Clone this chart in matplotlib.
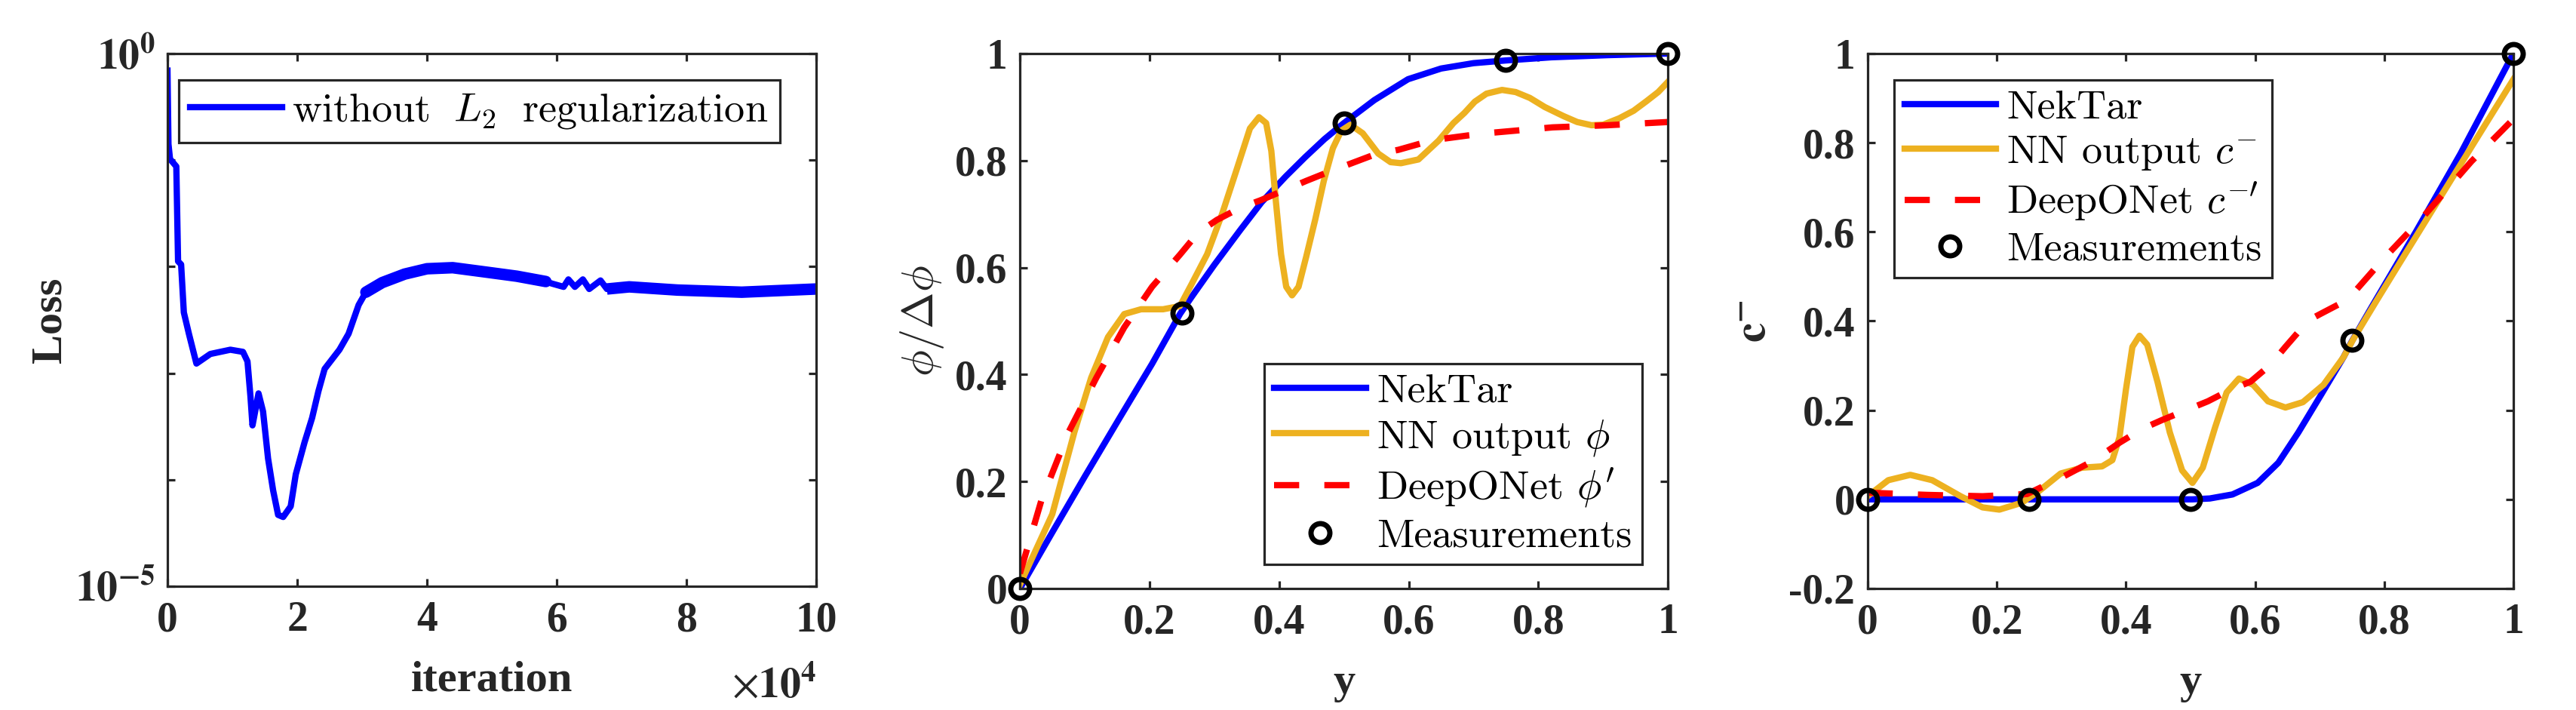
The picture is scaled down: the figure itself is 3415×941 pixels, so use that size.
import numpy as np
import matplotlib
matplotlib.use("Agg")
import matplotlib.pyplot as plt
from matplotlib.font_manager import FontProperties

# ---------------- data ----------------
# Panel 1: training loss
loss_iter = [0, 150, 390, 1360, 1630, 2100, 2520, 3300, 4460, 6600, 9690, 11630,
             12330, 12790, 13100, 13570, 14030, 14730, 15500, 16280, 17050, 17830,
             18990, 19770, 21120, 22290, 23260, 24220, 26500, 27910, 29460, 30580,
             33090, 36560, 40000, 43950, 48930, 53840, 58320, 59300, 61050, 61790,
             62790, 64020, 65000, 66740, 67730, 71160, 78600, 88500, 100000]
loss_log10 = [-0.16, -0.85, -0.99, -1.06, -1.95, -1.98, -2.43, -2.63, -2.91, -2.82,
              -2.78, -2.80, -2.89, -3.22, -3.49, -3.34, -3.19, -3.36, -3.80, -4.10,
              -4.33, -4.35, -4.25, -3.95, -3.65, -3.42, -3.17, -2.96, -2.78, -2.63,
              -2.36, -2.24, -2.15, -2.07, -2.02, -2.01, -2.05, -2.09, -2.14, -2.16,
              -2.19, -2.12, -2.19, -2.12, -2.21, -2.13, -2.21, -2.19, -2.22, -2.24,
              -2.21]
loss_label = r"without $\;L_2\;$ regularization"
iter_ticks = [0, 20000, 40000, 60000, 80000, 100000]
iter_ticklabels = ["0", "2", "4", "6", "8", "10"]

# Panel 2: phi / delta phi
phi_nek_y = [0, 0.05, 0.101, 0.153, 0.204, 0.247, 0.265, 0.30, 0.34, 0.373, 0.41,
             0.44, 0.47, 0.5, 0.547, 0.599, 0.65, 0.70, 0.749, 0.82, 0.907, 1.0]
phi_nek = [0, 0.105, 0.211, 0.317, 0.42, 0.513, 0.545, 0.605, 0.67, 0.722, 0.77,
           0.806, 0.84, 0.87, 0.913, 0.952, 0.972, 0.982, 0.987, 0.993, 0.997, 1.0]
phi_nn_y = [0, 0.05, 0.084, 0.11, 0.136, 0.161, 0.187, 0.221, 0.247, 0.265, 0.289,
            0.312, 0.335, 0.355, 0.369, 0.380, 0.388, 0.395, 0.403, 0.411, 0.420,
            0.430, 0.442, 0.456, 0.469, 0.483, 0.496, 0.510, 0.529, 0.553, 0.572,
            0.588, 0.615, 0.646, 0.669, 0.686, 0.702, 0.72, 0.744, 0.765, 0.787,
            0.81, 0.839, 0.86, 0.882, 0.90, 0.925, 0.947, 0.967, 0.985, 1.0]
phi_nn = [0.007, 0.139, 0.292, 0.394, 0.47, 0.513, 0.522, 0.522, 0.528, 0.569, 0.625,
          0.70, 0.785, 0.860, 0.881, 0.870, 0.818, 0.724, 0.625, 0.564, 0.548,
          0.564, 0.621, 0.691, 0.762, 0.823, 0.856, 0.867, 0.851, 0.813, 0.797,
          0.795, 0.802, 0.837, 0.870, 0.889, 0.910, 0.925, 0.932, 0.928, 0.917,
          0.900, 0.883, 0.872, 0.866, 0.867, 0.879, 0.893, 0.911, 0.928, 0.947]
phi_don_y = [0, 0.033, 0.075, 0.118, 0.161, 0.204, 0.247, 0.275, 0.304, 0.339, 0.372,
             0.409, 0.442, 0.477, 0.512, 0.547, 0.584, 0.619, 0.655, 0.692, 0.729,
             0.822, 0.907, 1.0]
phi_don = [0.028, 0.164, 0.292, 0.394, 0.488, 0.564, 0.624, 0.665, 0.689, 0.711, 0.726,
           0.745, 0.762, 0.779, 0.795, 0.811, 0.820, 0.832, 0.841, 0.847, 0.852,
           0.862, 0.866, 0.872]
phi_meas_y = [0, 0.25, 0.5, 0.75, 1.0]
phi_meas = [0, 0.515, 0.87, 0.987, 1.0]

# Panel 3: c-
c_nek_y = [0, 0.503, 0.53, 0.565, 0.604, 0.636, 0.667, 0.702, 0.737, 0.75, 0.78,
           0.849, 0.918, 1.0]
c_nek = [0, 0, 0.002, 0.011, 0.037, 0.082, 0.150, 0.234, 0.319, 0.355, 0.43,
         0.60, 0.775, 1.0]
c_nn_y = [0, 0.032, 0.066, 0.1, 0.144, 0.178, 0.204, 0.238, 0.264, 0.299, 0.332,
          0.363, 0.379, 0.39, 0.40, 0.41, 0.421, 0.433, 0.449, 0.468, 0.487, 0.503,
          0.519, 0.538, 0.556, 0.575, 0.597, 0.62, 0.647, 0.674, 0.706, 0.737,
          0.752, 0.787, 0.823, 0.91, 1.0]
c_nn = [0.007, 0.043, 0.055, 0.043, 0.007, -0.018, -0.023, -0.008, 0.017, 0.058,
        0.071, 0.074, 0.088, 0.139, 0.246, 0.342, 0.367, 0.347, 0.263, 0.150,
        0.065, 0.037, 0.071, 0.161, 0.240, 0.271, 0.257, 0.220, 0.206, 0.218,
        0.257, 0.319, 0.359, 0.443, 0.528, 0.732, 0.942]
c_don_y = [0, 0.092, 0.178, 0.247, 0.299, 0.35, 0.39, 0.425, 0.456, 0.495, 0.527,
           0.562, 0.593, 0.624, 0.647, 0.674, 0.686, 0.70, 0.737, 0.755, 0.798,
           0.858, 0.935, 1.0]
c_don = [0.015, 0.01, 0.007, 0.012, 0.048, 0.087, 0.127, 0.158, 0.178, 0.201, 0.220,
         0.246, 0.264, 0.302, 0.342, 0.387, 0.404, 0.415, 0.443, 0.467, 0.538,
         0.63, 0.758, 0.853]
c_meas_y = [0, 0.25, 0.5, 0.75, 1.0]
c_meas = [0, 0, 0, 0.357, 1.0]

y_ticks = [0, 0.2, 0.4, 0.6, 0.8, 1.0]
y_ticklabels = ["0", "0.2", "0.4", "0.6", "0.8", "1"]
c_ticks = [-0.2, 0, 0.2, 0.4, 0.6, 0.8, 1.0]
c_ticklabels = ["-0.2", "0", "0.2", "0.4", "0.6", "0.8", "1"]

labels_phi = ["NekTar", r"NN output $\phi$", r"DeepONet $\phi^{\prime}$", "Measurements"]
labels_c = ["NekTar", r"NN output $c^{-}$", r"DeepONet $c^{-\prime}$", "Measurements"]

# ---------------- style ----------------
plt.rcParams["mathtext.fontset"] = "stix"
plt.rcParams["font.family"] = ["Liberation Serif", "DejaVu Serif"]
AX_COLOR = "#262626"
BLUE = "#0000ff"
YELLOW = "#EDB120"
RED = "#ff0000"
TICK_FS = 40
LABEL_FS = 42
LW = 6

leg_prop = FontProperties(family="cmr10", size=39, math_fontfamily="cm")

fig = plt.figure(figsize=(34.16, 9.41), dpi=100)
ax1 = fig.add_axes([0.0650, 0.1743, 0.2518, 0.7503])
ax2 = fig.add_axes([0.3958, 0.1711, 0.2515, 0.7535])
ax3 = fig.add_axes([0.7248, 0.1711, 0.2506, 0.7535])


def style_axes(ax):
    for s in ax.spines.values():
        s.set_color(AX_COLOR)
        s.set_linewidth(2.3)
    ax.tick_params(direction="in", length=7, width=2.3, color=AX_COLOR,
                   top=True, right=True, labelsize=TICK_FS, labelcolor=AX_COLOR)
    ax.tick_params(axis="x", pad=14)
    ax.tick_params(axis="y", pad=12)
    ax.tick_params(which="minor", length=0)
    for t in ax.get_xticklabels() + ax.get_yticklabels():
        t.set_fontweight("bold")


def style_legend(leg):
    fr = leg.get_frame()
    fr.set_edgecolor(AX_COLOR)
    fr.set_linewidth(2.3)
    fr.set_boxstyle("square", pad=0)


# ---- panel 1 ----
loss_vals = [10.0 ** v for v in loss_log10]
ax1.plot(loss_iter, loss_vals, color=BLUE, lw=LW, label=loss_label)
# noisy band portions drawn thicker
i0 = loss_iter.index(30580)
i1 = loss_iter.index(58320)
i2 = loss_iter.index(67730)
ax1.plot(loss_iter[i0:i1 + 1], loss_vals[i0:i1 + 1], color=BLUE, lw=11,
         solid_capstyle="round")
ax1.plot(loss_iter[i2:], loss_vals[i2:], color=BLUE, lw=11, solid_capstyle="butt")
ax1.set_yscale("log")
ax1.set_xlim(0, 100000)
ax1.set_ylim(1e-5, 1e0)
ax1.set_xticks(iter_ticks)
ax1.set_xticklabels(iter_ticklabels)
ax1.set_yticks([1e-5, 1e-4, 1e-3, 1e-2, 1e-1, 1e0])
ax1.set_yticklabels([r"$\mathbf{10^{-5}}$", "", "", "", "", r"$\mathbf{10^{0}}$"])
ax1.yaxis.set_minor_locator(matplotlib.ticker.NullLocator())
style_axes(ax1)
ax1.set_ylabel("Loss", fontsize=LABEL_FS, fontweight="bold", color=AX_COLOR, va="center")
ax1.yaxis.set_label_coords(-0.181, 0.5)
ax1.set_xlabel("iteration", fontsize=LABEL_FS, fontweight="bold", color=AX_COLOR, va="top")
ax1.xaxis.set_label_coords(0.5, -0.14)
ax1.text(1.0, -0.15, r"$\times\mathbf{10^{4}}$", transform=ax1.transAxes,
         ha="right", va="top", fontsize=TICK_FS, color=AX_COLOR)
h = ax1.get_lines()[0]
leg1 = ax1.legend([h], [loss_label], loc="upper left", bbox_to_anchor=(0.017, 0.95),
                  borderaxespad=0, prop=leg_prop, handlelength=2.25, handletextpad=0.25,
                  borderpad=0.28, fancybox=False, framealpha=1)
style_legend(leg1)

# ---- panel 2 ----
ax2.plot(phi_nek_y, phi_nek, color=BLUE, lw=LW, label=labels_phi[0])
ax2.plot(phi_nn_y, phi_nn, color=YELLOW, lw=LW, label=labels_phi[1])
ax2.plot(phi_don_y, phi_don, color=RED, lw=LW, ls=(0, (4, 4)), label=labels_phi[2])
ax2.plot(phi_meas_y, phi_meas, "o", ms=18, mfc="none", mec="black", mew=5,
         label=labels_phi[3], clip_on=False, zorder=5)
ax2.set_xlim(0, 1)
ax2.set_ylim(0, 1)
ax2.set_xticks(y_ticks)
ax2.set_xticklabels(y_ticklabels)
ax2.set_yticks(y_ticks)
ax2.set_yticklabels(y_ticklabels)
style_axes(ax2)
ax2.set_ylabel(r"$\phi/\Delta\phi$", fontsize=LABEL_FS, color=AX_COLOR, va="center",
               math_fontfamily="cm")
ax2.yaxis.set_label_coords(-0.151, 0.5)
ax2.set_xlabel("y", fontsize=LABEL_FS, fontweight="bold", color=AX_COLOR, va="top")
ax2.xaxis.set_label_coords(0.5, -0.14)
leg2 = ax2.legend(loc="lower right", bbox_to_anchor=(0.960, 0.045), borderaxespad=0,
                  prop=leg_prop, handlelength=2.25, handletextpad=0.25,
                  borderpad=0.25, labelspacing=0.2, fancybox=False, framealpha=1)
style_legend(leg2)

# ---- panel 3 ----
ax3.plot(c_nek_y, c_nek, color=BLUE, lw=LW, label=labels_c[0])
ax3.plot(c_nn_y, c_nn, color=YELLOW, lw=LW, label=labels_c[1])
ax3.plot(c_don_y, c_don, color=RED, lw=LW, ls=(0, (4, 4)), label=labels_c[2])
ax3.plot(c_meas_y, c_meas, "o", ms=18, mfc="none", mec="black", mew=5,
         label=labels_c[3], clip_on=False, zorder=5)
ax3.set_xlim(0, 1)
ax3.set_ylim(-0.2, 1)
ax3.set_xticks(y_ticks)
ax3.set_xticklabels(y_ticklabels)
ax3.set_yticks(c_ticks)
ax3.set_yticklabels(c_ticklabels)
style_axes(ax3)
ax3.set_ylabel(r"$\mathbf{c}^{\mathbf{-}}$", fontsize=LABEL_FS, color=AX_COLOR,
               va="center")
ax3.yaxis.set_label_coords(-0.174, 0.5)
ax3.set_xlabel("y", fontsize=LABEL_FS, fontweight="bold", color=AX_COLOR, va="top")
ax3.xaxis.set_label_coords(0.5, -0.14)
leg3 = ax3.legend(loc="upper left", bbox_to_anchor=(0.041, 0.951), borderaxespad=0,
                  prop=leg_prop, handlelength=2.25, handletextpad=0.25,
                  borderpad=0.25, labelspacing=0.2, fancybox=False, framealpha=1)
style_legend(leg3)

fig.savefig("out.png", dpi=100, facecolor="white")
